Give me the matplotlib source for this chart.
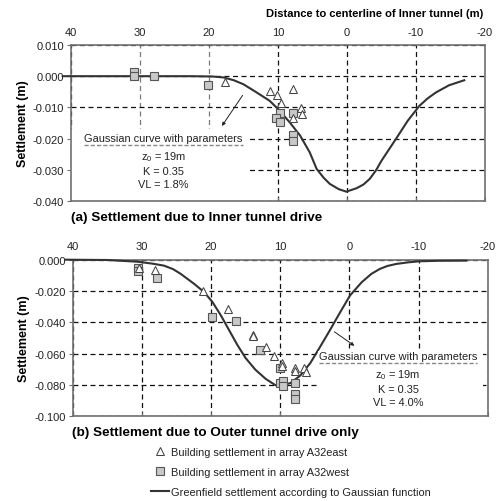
import matplotlib
matplotlib.use("Agg")
import matplotlib.pyplot as plt
from matplotlib.lines import Line2D
from matplotlib.patches import Rectangle
from matplotlib.transforms import IdentityTransform

plt.rcParams['font.family'] = ['Liberation Sans', 'DejaVu Sans']
plt.rcParams['axes.unicode_minus'] = False

# (a) Inner tunnel drive
a_east_x = [17.7, 11.1, 10.1, 9.6, 7.8, 6.6, 6.5, 7.8]
a_east_y = [-0.0020, -0.0049, -0.0060, -0.0087, -0.0042, -0.0102, -0.0120, -0.0135]
a_west_x = [30.9, 30.9, 27.9, 20.2, 9.7, 10.3, 9.7, 7.8, 7.8, 7.8]
a_west_y = [0.0012, 0.0, 0.0002, -0.0029, -0.0118, -0.0135, -0.0148, -0.0118, -0.0188, -0.0207]
a_curve_x = [41.2, 30, 22.7, 19.5, 17.9, 16.4, 15.0, 13.1, 11.2, 10.0, 8.3, 6.8, 5.4, 4.4,
             3.4, 2.5, 1.2, 0.1, -1.4, -2.4, -3.3, -4.2, -5.0, -7.1, -8.8, -10.5, -11.7,
             -12.9, -14.8, -17.0]
a_curve_y = [0.0, 0.0, 0.0, -0.0001, -0.0004, -0.0013, -0.0026, -0.0052, -0.0079, -0.0105,
             -0.0148, -0.0190, -0.0244, -0.0297, -0.0325, -0.0345, -0.0362, -0.0370,
             -0.0359, -0.0347, -0.0329, -0.0302, -0.0271, -0.0201, -0.0143, -0.0095,
             -0.0071, -0.0052, -0.0029, -0.0013]

# (b) Outer tunnel drive only
b_east_x = [30.4, 28.1, 21.2, 17.6, 14.0, 14.0, 12.0, 10.9, 9.8, 9.8, 7.8, 7.8, 6.6, 6.3]
b_east_y = [-0.0050, -0.0065, -0.0203, -0.0318, -0.0480, -0.0490, -0.0559, -0.0618,
            -0.0660, -0.0680, -0.0690, -0.0710, -0.0690, -0.0720]
b_west_x = [30.6, 30.6, 27.8, 19.9, 16.4, 12.85, 10.0, 10.1, 9.6, 9.6, 7.8, 7.8, 7.8]
b_west_y = [-0.0055, -0.0070, -0.0118, -0.0365, -0.0392, -0.0576, -0.0692, -0.0787,
            -0.0772, -0.0804, -0.0787, -0.0860, -0.0888]
b_curve_x = [41.1, 35, 30.6, 28.5, 26.8, 25.5, 24.4, 22.45, 21.0, 19.8, 18.6, 17.4, 16.2,
             15.0, 13.6, 12.1, 10.7, 10.0, 8.5, 7.1, 5.65, 4.2, 2.8, 1.3, -0.1, -1.8,
             -3.2, -4.4, -5.5, -6.8, -8.5, -10.2, -13.0, -16.9]
b_curve_y = [0.0, -0.0002, -0.0013, -0.0025, -0.0038, -0.0060, -0.0090, -0.0154, -0.0207,
             -0.0270, -0.0354, -0.0449, -0.0544, -0.0628, -0.0702, -0.0761, -0.0801,
             -0.0808, -0.0787, -0.0740, -0.0660, -0.0554, -0.0449, -0.0333, -0.0228,
             -0.0143, -0.0090, -0.0059, -0.0040, -0.0027, -0.0017, -0.0010, -0.0007,
             -0.0006]

x_ticks = [40, 30, 20, 10, 0, -10, -20]
a_yticks = [0.010, 0.000, -0.010, -0.020, -0.030, -0.040]
b_yticks = [0.000, -0.020, -0.040, -0.060, -0.080, -0.100]

params_a = ['z$_{\\mathregular{0}}$ = 19m', 'K = 0.35', 'VL = 1.8%']
params_b = ['z$_{\\mathregular{0}}$ = 19m', 'K = 0.35', 'VL = 4.0%']

spine_c = '#707070'
curve_c = '#333333'
sq_face = '#c8c8c8'
sq_edge = '#555555'

fig = plt.figure(figsize=(5.01, 5.02), dpi=100)
ax1 = fig.add_axes([0.1417, 0.5976, 0.8263, 0.3108])
ax2 = fig.add_axes([0.1451, 0.1687, 0.8284, 0.3120])


def style_axes(ax, yticks):
    ax.set_xlim(40, -20)
    ax.set_ylim(yticks[-1], yticks[0])
    ax.set_xticks(x_ticks)
    ax.set_yticks(yticks)
    ax.set_yticklabels(['%.3f' % v for v in yticks])
    ax.xaxis.tick_top()
    ax.tick_params(axis='x', which='both', top=False, bottom=True, direction='in',
                   length=3, color=spine_c, labeltop=True, labelbottom=False,
                   labelsize=8, pad=6, labelcolor='#222222')
    ax.tick_params(axis='y', direction='out', length=3, color=spine_c,
                   labelsize=8, pad=2, labelcolor='#222222')
    for s in ax.spines.values():
        s.set_color(spine_c)
        s.set_linewidth(1.2)
    ax.grid(True, color='#111111', linestyle=(0, (4, 2.8)), linewidth=0.9)
    ax.set_axisbelow(True)
    ax.set_ylabel('Settlement (m)', fontsize=9, fontweight='bold', labelpad=3)


def draw_data(ax, ex, ey, wx, wy, cx, cy):
    ax.plot(cx, cy, color=curve_c, linewidth=1.5, zorder=4, clip_on=False)
    ax.plot(wx, wy, linestyle='none', marker='s', markersize=6.3,
            markerfacecolor=sq_face, markeredgecolor=sq_edge, markeredgewidth=0.8, zorder=5)
    ax.plot(ex, ey, linestyle='none', marker='^', markersize=6.3,
            markerfacecolor='white', markeredgecolor='#444444', markeredgewidth=0.75, zorder=6)


style_axes(ax1, a_yticks)
style_axes(ax2, b_yticks)
# the 30 and 20 verticals of the upper panel are lighter in the original
for i in (1, 2):
    ax1.get_xgridlines()[i].set_color('#7a7a7a')

# white boxes behind the parameter text
ax1.add_patch(Rectangle((0, 0), 0.425, 0.46, transform=ax1.transAxes,
                        facecolor='white', edgecolor='none', zorder=2))
ax2.add_patch(Rectangle((0.589, 0), 0.40, 0.43, transform=ax2.transAxes,
                        facecolor='white', edgecolor='none', zorder=2))

draw_data(ax1, a_east_x, a_east_y, a_west_x, a_west_y, a_curve_x, a_curve_y)
draw_data(ax2, b_east_x, b_east_y, b_west_x, b_west_y, b_curve_x, b_curve_y)

# top axis label
fig.text(483 / 501, 1 - 14 / 502, 'Distance to centerline of Inner tunnel (m)',
         ha='right', va='center', fontsize=8, fontweight='bold')

# panel titles
fig.text(71 / 501, 1 - 218 / 502, '(a) Settlement due to Inner tunnel drive',
         ha='left', va='center', fontsize=9.7, fontweight='bold')
fig.text(72 / 501, 1 - 433 / 502, '(b) Settlement due to Outer tunnel drive only',
         ha='left', va='center', fontsize=9.7, fontweight='bold')

# annotations
head_a = ax1.text(26.6, -0.0199, 'Gaussian curve with parameters', ha='center', va='center',
                  fontsize=7.9, color='#222222', zorder=7,
                  bbox=dict(facecolor='white', edgecolor='none', pad=0.5))
ax1.text(26.6, -0.0297, '\n'.join(params_a), ha='center', va='center', fontsize=7.9,
         linespacing=1.37, color='#222222', zorder=7)
ax1.annotate('', xy=(18.35, -0.0167), xytext=(14.9, -0.0054),
             arrowprops=dict(arrowstyle='-|>', color='#222222', lw=0.7,
                             mutation_scale=5), zorder=7)

head_b = ax2.text(-7.05, -0.0616, 'Gaussian curve with parameters', ha='center', va='center',
                  fontsize=7.9, color='#222222', zorder=7,
                  bbox=dict(facecolor='white', edgecolor='none', pad=0.5))
ax2.text(-7.05, -0.0812, '\n'.join(params_b), ha='center', va='center', fontsize=7.9,
         linespacing=1.37, color='#222222', zorder=7)
ax2.annotate('', xy=(-1.06, -0.056), xytext=(2.5, -0.045),
             arrowprops=dict(arrowstyle='-|>', color='#222222', lw=0.7,
                             mutation_scale=5), zorder=7)

# grey dashed underline below the headings
fig.canvas.draw()
renderer = fig.canvas.get_renderer()
for t in (head_a, head_b):
    bb = t.get_window_extent(renderer)
    fig.add_artist(Line2D([bb.x0, bb.x1], [bb.y0 - 1.5, bb.y0 - 1.5], transform=IdentityTransform(),
                          color='#888888', linewidth=1.0, linestyle=(0, (3, 1.5))))

# legend
handles = [
    Line2D([], [], linestyle='none', marker='^', markersize=6.3, markerfacecolor='white',
           markeredgecolor='#444444', markeredgewidth=0.75),
    Line2D([], [], linestyle='none', marker='s', markersize=6.3, markerfacecolor=sq_face,
           markeredgecolor=sq_edge, markeredgewidth=0.8),
    Line2D([], [], color=curve_c, linewidth=1.5),
]
labels = ['Building settlement in array A32east',
          'Building settlement in array A32west',
          'Greenfield settlement according to Gaussian function']
fig.legend(handles, labels, loc='upper left', bbox_to_anchor=(151 / 501, 1 - 448 / 502),
           frameon=False, fontsize=7.9, handlelength=1.64, handletextpad=0.18,
           labelspacing=0.9, borderpad=0, borderaxespad=0, labelcolor='#222222')

fig.savefig('out.png', dpi=100)
